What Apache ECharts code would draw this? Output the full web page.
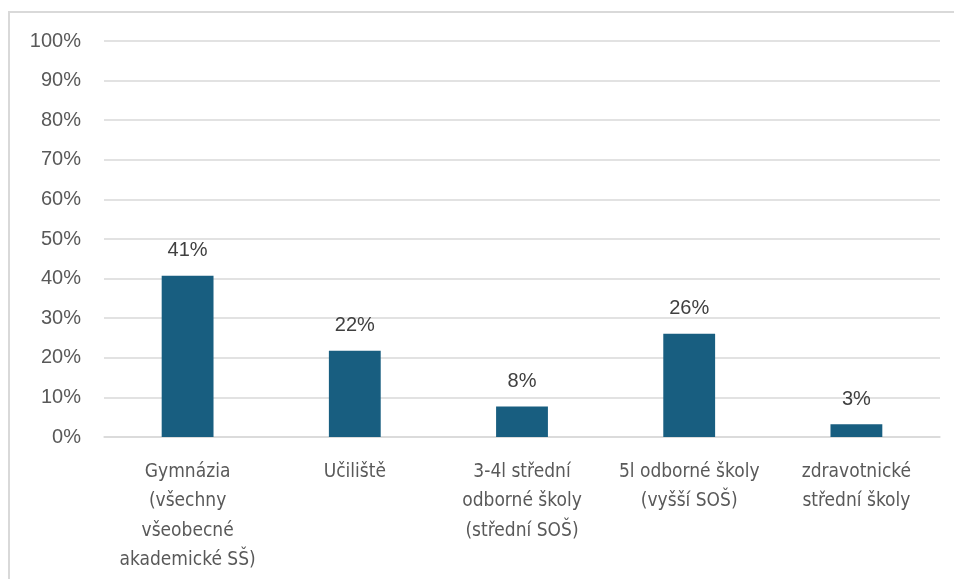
<!DOCTYPE html>
<html>
<head>
<meta charset="utf-8">
<script src="https://cdn.jsdelivr.net/npm/echarts@6/dist/echarts.min.js"></script>
<style>
html,body{margin:0;padding:0;background:#fff;}
#chart{width:954px;height:579px;}
</style>
</head>
<body>
<div id="chart"></div>
<script>
var categories = [
  "Gymnázia\n(všechny\nvšeobecné\nakademické SŠ)",
  "Učiliště",
  "3-4l střední\nodborné školy\n(střední SOŠ)",
  "5l odborné školy\n(vyšší SOŠ)",
  "zdravotnické\nstřední školy"
];
var values = [40.7, 21.8, 7.7, 26.1, 3.2];
var yTicks = [0, 10, 20, 30, 40, 50, 60, 70, 80, 90, 100];

var chart = echarts.init(document.getElementById('chart'), null, {renderer: 'canvas'});
chart.setOption({
  animation: false,
  backgroundColor: '#ffffff',
  graphic: [{
    type: 'rect',
    shape: {x: 9, y: 12, width: 980, height: 620},
    style: {fill: 'none', stroke: '#d9d9d9', lineWidth: 2},
    silent: true
  }],
  grid: {left: 104, right: 14, top: 41, bottom: 142, containLabel: false},
  xAxis: {
    type: 'category',
    data: categories,
    axisLine: {show: true, lineStyle: {color: '#d9d9d9', width: 1.5}},
    axisTick: {show: false},
    axisLabel: {
      interval: 0,
      color: '#595959',
      fontFamily: '"Liberation Sans Narrow", "DejaVu Sans Condensed", "Liberation Sans", sans-serif',
      fontSize: 19,
      lineHeight: 29.5,
      margin: 20
    }
  },
  yAxis: {
    type: 'value',
    min: 0,
    max: 100,
    interval: 10,
    axisLine: {show: false},
    axisTick: {show: false},
    splitLine: {lineStyle: {color: '#d9d9d9', width: 1.5}},
    axisLabel: {
      color: '#595959',
      fontFamily: '"Liberation Sans", Arial, sans-serif',
      fontSize: 20,
      margin: 23,
      formatter: function (v) { return yTicks.indexOf(v) >= 0 ? v + '%' : ''; }
    }
  },
  series: [{
    type: 'bar',
    data: values,
    barWidth: '31%',
    itemStyle: {color: '#185e80'},
    label: {
      show: true,
      position: 'top',
      distance: 15,
      color: '#404040',
      fontFamily: '"Liberation Sans", Arial, sans-serif',
      fontSize: 20,
      formatter: function (p) { return Math.round(p.value) + '%'; }
    }
  }]
});
</script>
</body>
</html>
